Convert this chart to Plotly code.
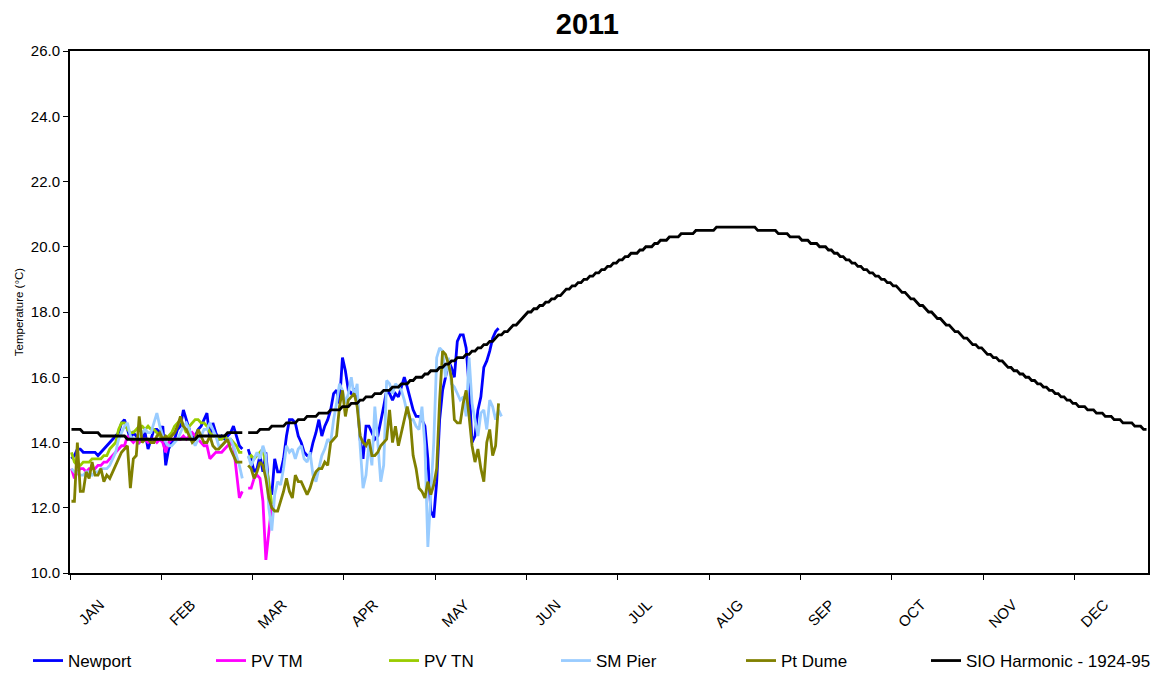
import plotly.graph_objects as go

# ---- daily sea-surface temperatures, 2011 (index 0 = Jan 1, index 59 = Feb 29, no data) ----
month_labels = ["JAN", "FEB", "MAR", "APR", "MAY", "JUN",
                "JUL", "AUG", "SEP", "OCT", "NOV", "DEC"]

newport = [13.5, 13.6, 13.8, 13.8, 13.7, 13.7, 13.7, 13.7, 13.7, 13.6,
           13.7, 13.8, 13.9, 14.0, 14.1, 14.2, 14.3, 14.6, 14.7, 14.4,
           14.1, 14.3, 14.2, 14.0, 14.1, 14.3, 13.8, 14.1, 14.4, 14.4,
           14.3, 14.5, 13.3, 13.8, 14.0, 14.1, 14.4, 14.5, 15.0, 14.7,
           14.4, 14.1, 14.2, 14.4, 14.5, 14.7, 14.9, 14.1, 14.6, 14.3,
           14.1, 14.2, 14.1, 14.2, 14.3, 14.5, 14.2, 13.9, 13.8,
           None,
           13.8, 13.5, 13.1, 13.2, 13.6, 13.1, 13.7, 12.6, 12.4, 13.5,
           13.1, 13.1, 13.5, 14.2, 14.7, 14.7, 14.6, 14.2, 14.0, 13.7,
           13.6, 13.6, 14.0, 14.3, 14.7, 14.2, 14.5, 14.7, 15.0, 15.5,
           15.6, 15.2, 16.6, 16.2, 15.6, 15.5, 15.6, 15.4, 14.1, 13.5,
           14.5,
           14.5, 14.3, 14.1, 14.2, 14.6, 15.1, 15.6, 15.5, 15.3,
           15.5, 15.4, 15.7, 16.0, 15.7, 15.3, 15.0, 14.8, 14.8, 14.7,
           14.5, 13.5, 11.9, 11.7, 12.8, 14.7, 15.6, 16.0, 16.5, 16.3,
           16.0, 17.1, 17.3, 17.3, 16.9, 15.7, 14.0, 14.2, 15.0, 15.4,
           16.3, 16.5, 16.8, 17.2, 17.4, 17.5]

pv_tm = [13.2, 12.9, 13.1, 13.2, 13.2, 13.1, 13.2, 13.2, 13.2, 13.3,
         13.3, 13.4, 13.4, 13.5, 13.6, 13.7, 13.8, 13.9, 13.9, 14.2,
         14.1, 14.0, 14.1, 14.0, 14.1, 14.1, 14.0, 14.1, 14.1, 14.0,
         14.1, 14.0, 13.7, 14.0, 14.1, 14.1, 14.1, 14.1, 14.2, 14.1,
         14.2, 14.3, 14.2, 14.1, 14.0, 13.9, 13.9, 13.5, 13.6, 13.7,
         13.7, 13.7, 13.8, 13.9, 14.0, 13.9, 13.0, 12.3, 12.5,
         None,
         12.6, 12.6, 12.9, 13.0, 12.9, 12.2, 10.4, 11.2, 12.1]

pv_tn = [13.7, 13.4, 13.3, 13.3, 13.4, 13.4, 13.4, 13.5, 13.5, 13.5,
         13.5, 13.6, 13.6, 13.8, 13.9, 14.0, 14.4, 14.6, 14.6, 14.4,
         14.3, 14.3, 14.4, 14.5, 14.5, 14.4, 14.5, 14.4, 14.4, 14.3,
         14.2, 14.1, 14.1, 14.2, 14.3, 14.5, 14.6, 14.7, 14.5, 14.3,
         14.5, 14.6, 14.7, 14.7, 14.6, 14.6, 14.5, 14.3, 14.2, 14.2,
         14.1, 14.1, 14.2, 14.1, 14.1, 14.0, 13.9, 13.7, 13.7,
         None,
         13.5, 13.6, 13.5, 13.6, 13.7, 13.8, 13.3, 12.8, 12.1]

sm_pier = [13.2, 13.1, 13.1, 13.0, 13.0, 13.1, 13.1, 13.0, 13.1, 13.1,
           13.2, 13.2, 13.2, 13.3, 13.5, 13.7, 14.1, 14.3, 14.5, 14.6,
           14.2, 14.1, 14.1, 14.2, 14.3, 14.4, 14.3, 14.3, 14.6, 14.9,
           14.5, 14.2, 14.0, 13.9, 13.9, 14.0, 14.1, 14.3, 14.5, 14.6,
           14.4, 14.1, 13.9, 14.1, 14.2, 14.4, 14.4, 14.6, 14.4, 14.2,
           13.9, 13.9, 14.0, 14.1, 14.1, 13.9, 13.6, 13.3, 12.9,
           None,
           13.6, 13.3, 13.5, 13.7, 13.5, 13.9, 13.6, 12.0, 11.3, 12.4,
           12.8, 12.7, 13.2, 13.9, 13.7, 13.8, 13.5, 13.8, 13.9, 13.5,
           13.4, 13.7, 13.0, 12.8, 13.2, 13.6, 13.8, 14.1, 14.0, 14.7,
           15.2, 15.8, 15.6, 15.2, 15.5, 16.0, 15.4, 15.8, 13.9, 12.6,
           13.0,
           14.0, 13.3, 15.1, 14.0, 12.8, 13.3, 15.9, 15.8, 15.5,
           15.8, 15.7, 15.6, 15.3, 14.9, 14.7, 14.7, 14.5, 14.4, 15.1,
           13.9, 10.8, 12.3, 14.0, 16.6, 16.9, 16.8, 16.0, 16.6, 15.8,
           15.7, 15.5, 15.3, 15.4, 14.8, 16.6, 15.2, 14.7, 14.2, 14.9,
           15.0, 14.4, 15.3, 15.1, 14.7, 15.0, 14.8]

pt_dume = [12.2, 12.2, 14.0, 12.5, 12.5, 13.1, 12.9, 13.4, 13.0, 13.0,
           13.2, 12.8, 13.0, 12.9, 13.1, 13.3, 13.5, 13.7, 13.8, 13.9,
           12.6, 13.5, 13.6, 14.8, 14.0, 14.1, 14.1, 14.0, 14.0, 14.2,
           14.3, 14.1, 14.2, 14.1, 14.2, 14.3, 14.5, 14.8, 14.5, 14.4,
           14.2, 14.0, 14.1, 14.4, 14.2, 14.0, 14.0, 14.2, 13.9, 13.8,
           13.8, 13.9, 14.0, 14.1, 13.8, 13.6, 13.4, 13.4, 13.4,
           None,
           13.3, 13.2, 12.9, 13.1, 13.4, 13.3, 12.9, 12.3, 12.0, 11.9,
           11.9, 12.2, 12.5, 12.9, 12.5, 12.3, 13.0, 12.8, 12.8, 12.6,
           12.4, 12.6, 12.9, 13.1, 13.2, 13.2, 13.4, 13.3, 14.0, 14.1,
           14.2, 15.1, 15.6, 14.8, 15.3, 15.4, 15.5, 15.1, 14.2, 14.0,
           13.9, 14.1,
           13.6, 13.6, 13.7, 13.9, 14.0, 14.1, 15.0, 14.0,
           14.5, 13.9, 14.3, 14.7, 15.1, 14.7, 13.6, 13.2, 12.6, 12.5,
           12.3, 12.8, 12.4, 12.7, 13.2, 15.3, 16.8, 16.7, 16.4, 16.0,
           14.7, 14.6, 14.6, 15.2, 15.6, 14.8, 13.9, 13.4, 13.8, 13.2,
           12.8, 14.0, 14.4, 13.6, 13.9, 15.2]

# SIO harmonic climatology (1924-95), tabulated to 0.1 degC:
# each level holds for the given number of consecutive days (None = Feb 29)
sio_level = [14.4, 14.3, 14.2, 14.1, 14.2, 14.3, None, 14.3,
             14.4, 14.5, 14.6, 14.7, 14.8, 14.9, 15.0, 15.1, 15.2, 15.3,
             15.4, 15.5, 15.6, 15.7, 15.8, 15.9, 16.0, 16.1, 16.2, 16.3,
             16.4, 16.5, 16.6, 16.7, 16.8, 16.9, 17.0, 17.1, 17.2, 17.3,
             17.4, 17.5, 17.6, 17.7, 17.8, 17.9, 18.0, 18.1, 18.2, 18.3,
             18.4, 18.5, 18.6, 18.7, 18.8, 18.9, 19.0, 19.1, 19.2, 19.3,
             19.4, 19.5, 19.6, 19.7, 19.8, 19.9, 20.0, 20.1, 20.2, 20.3,
             20.4, 20.5, 20.6,
             20.5, 20.4, 20.3, 20.2, 20.1, 20.0, 19.9, 19.8, 19.7, 19.6,
             19.5, 19.4, 19.3, 19.2, 19.1, 19.0, 18.9, 18.8, 18.7, 18.6,
             18.5, 18.4, 18.3, 18.2, 18.1, 18.0, 17.9, 17.8, 17.7, 17.6,
             17.5, 17.4, 17.3, 17.2, 17.1, 17.0, 16.9, 16.8, 16.7, 16.6,
             16.5, 16.4, 16.3, 16.2, 16.1, 16.0, 15.9, 15.8, 15.7, 15.6,
             15.5, 15.4, 15.3, 15.2, 15.1, 15.0, 14.9, 14.8, 14.7, 14.6,
             14.5, 14.4]
sio_days = [4, 6, 9, 24, 10, 6, 1, 4,
            4, 5, 4, 3, 4, 4, 4, 3, 3, 2,
            3, 3, 3, 3, 3, 2, 3, 2, 3, 2,
            2, 2, 3, 2, 2, 2, 2, 2, 1, 2,
            2, 1, 2, 1, 1, 1, 2, 2, 2, 2,
            2, 2, 1, 2, 2, 2, 2, 2, 2, 2,
            2, 2, 2, 2, 3, 2, 3, 2, 3, 4,
            5, 7, 14,
            7, 4, 4, 3, 3, 3, 2, 2, 2, 2,
            2, 2, 2, 2, 2, 2, 2, 2, 1, 2,
            1, 2, 1, 2, 1, 2, 1, 2, 1, 2,
            1, 2, 1, 2, 1, 2, 2, 1, 2, 2,
            2, 1, 2, 2, 2, 2, 2, 2, 2, 2,
            2, 2, 2, 2, 3, 3, 3, 3, 3, 4,
            3, 2]

sio = []
for level, n in zip(sio_level, sio_days):
    sio.extend([level] * n)

series = [
    ("Newport", newport, "#0000FF"),
    ("PV TM", pv_tm, "#FF00FF"),
    ("PV TN", pv_tn, "#99CC00"),
    ("SM Pier", sm_pier, "#99CCFF"),
    ("Pt Dume", pt_dume, "#808000"),
    ("SIO Harmonic - 1924-95", sio, "#000000"),
]

# left edge of each legend entry along the bottom row (pixels)
legend_left_px = [28, 211, 384, 556, 741, 926]

FONT = "Liberation Sans, Arial, sans-serif"
W, H = 1163, 673

fig = go.Figure()
legend_ids = ["legend"] + [f"legend{i}" for i in range(2, len(series) + 1)]
for (name, vals, color), lid in zip(series, legend_ids):
    fig.add_trace(go.Scatter(
        x=list(range(len(vals))), y=vals, mode="lines", name=name,
        line=dict(color=color, width=2.8), connectgaps=False,
        legend=lid,
    ))

legend_layout = {}
for lid, left in zip(legend_ids, legend_left_px):
    legend_layout[lid] = dict(
        orientation="h", xref="container", yref="container",
        x=left / W, xanchor="left", y=1 - 661 / H, yanchor="middle",
        font=dict(size=17, family=FONT, color="black"),
        bgcolor="rgba(0,0,0,0)", borderwidth=0,
    )

x_range = [-0.5, 365.5]
fig.update_layout(
    width=W, height=H,
    margin=dict(l=70, r=15, t=51, b=100, autoexpand=False),
    paper_bgcolor="white", plot_bgcolor="white",
    font=dict(family=FONT, color="black"),
    title=dict(text="<b>2011</b>", x=0.505, xref="container",
               y=0.964, yref="container", yanchor="middle", xanchor="center",
               font=dict(size=29, family=FONT, color="black")),
    showlegend=True,
    xaxis=dict(range=x_range, tickmode="array",
               tickvals=[9.6 + 31 * k for k in range(12)],
               ticktext=month_labels, tickangle=-45, ticks="",
               ticklabelstandoff=15,
               tickfont=dict(size=15, family=FONT, color="black"),
               minor=dict(tickmode="array",
                          tickvals=[-0.5 + 31 * k for k in range(12)],
                          ticks="outside", ticklen=5, tickcolor="black",
                          tickwidth=1, showgrid=False),
               showline=True, linecolor="black", linewidth=2, mirror=True,
               showgrid=False, zeroline=False),
    yaxis=dict(range=[10, 26], tickmode="linear", tick0=10, dtick=2,
               tickformat=".1f", ticks="outside", ticklen=5,
               tickcolor="black", tickwidth=1,
               tickfont=dict(size=15, family=FONT, color="black"),
               showline=True, linecolor="black", linewidth=2, mirror=True,
               showgrid=False, zeroline=False,
               title=dict(text="Temperature (°C)", standoff=5,
                          font=dict(size=11.5, family=FONT, color="black"))),
    **legend_layout,
)

fig.write_html("out.html")
